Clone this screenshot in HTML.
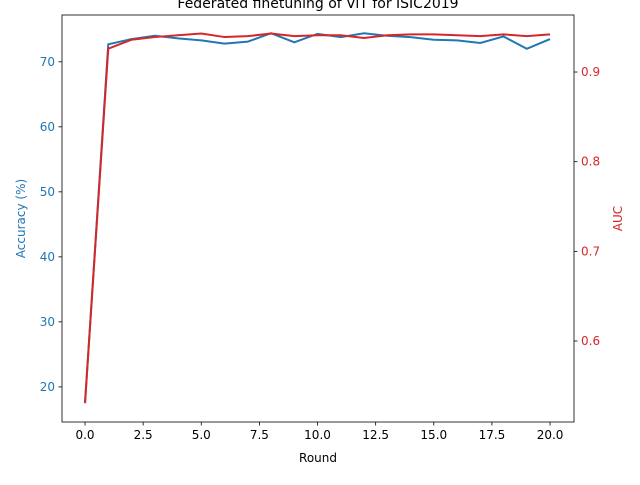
<!DOCTYPE html>
<html><head><meta charset="utf-8"><style>
body{margin:0;background:#fff;font-family:"Liberation Sans","DejaVu Sans",sans-serif}
</style></head><body>
<svg id="chart" width="640" height="480" font-family="DejaVu Sans, Liberation Sans, sans-serif" font-size="12"></svg>
<script>
const rounds=[0,1,2,3,4,5,6,7,8,9,10,11,12,13,14,15,16,17,18,19,20];
const accuracy=[17.5,72.7,73.5,74.0,73.6,73.3,72.8,73.1,74.4,73.0,74.3,73.8,74.4,74.0,73.8,73.4,73.3,72.9,73.9,72.0,73.5];
const auc=[0.531,0.926,0.936,0.939,0.941,0.943,0.939,0.940,0.943,0.940,0.941,0.941,0.938,0.941,0.942,0.942,0.941,0.940,0.942,0.940,0.942];
const xTicks=[0,2.5,5,7.5,10,12.5,15,17.5,20];
const xTickLabels=["0.0","2.5","5.0","7.5","10.0","12.5","15.0","17.5","20.0"];
const accTicks=[20,30,40,50,60,70];
const aucTicks=[0.6,0.7,0.8,0.9];
const L=62,R=574,T=15,B=422;
const xs=v=>L+(v+0.99)/(22.02)*(R-L);
const ya=v=>B-(v-14.6)/(77.2-14.6)*(B-T);
const yb=v=>B-(v-0.5097)/(0.9636-0.5097)*(B-T);
const svg=document.getElementById('chart');
const NS="http://www.w3.org/2000/svg";
function mk(t,a,txt){const e=document.createElementNS(NS,t);for(const k in a)e.setAttribute(k,a[k]);if(txt!==undefined)e.textContent=txt;svg.appendChild(e);return e;}
const frame=mk('rect',{x:L,y:T,width:R-L,height:B-T,fill:'none',stroke:'#000','stroke-width':0.8});


xTicks.forEach((v,i)=>{const x=xs(v);
 const t=mk('line',{x1:x,x2:x,y1:B,y2:B+3.5,stroke:'#000','stroke-width':0.8});
 
 
 const l=mk('text',{x:x,y:B+17,'text-anchor':'middle',fill:'#000'},xTickLabels[i]);
 
 });
accTicks.forEach(v=>{const y=ya(v);
 const t=mk('line',{x1:L-3.5,x2:L,y1:y,y2:y,stroke:'#000','stroke-width':0.8});
 
 
 const l=mk('text',{x:L-7,y:y+4,'text-anchor':'end',fill:'#1f77b4'},String(v));
 
 });
aucTicks.forEach(v=>{const y=yb(v);
 const t=mk('line',{x1:R,x2:R+3.5,y1:y,y2:y,stroke:'#000','stroke-width':0.8});
 
 
 const l=mk('text',{x:R+7,y:y+4,'text-anchor':'start',fill:'#d62728'},v.toFixed(1));
 
 });
const p1=mk('polyline',{points:rounds.map((r,i)=>xs(r)+','+ya(accuracy[i])).join(' '),fill:'none',stroke:'#1f77b4','stroke-width':2});


const p2=mk('polyline',{points:rounds.map((r,i)=>xs(r)+','+yb(auc[i])).join(' '),fill:'none',stroke:'#d62728','stroke-width':2});


const tt=mk('text',{x:(L+R)/2,y:8,'text-anchor':'middle','font-size':14,fill:'#000'},'Federated finetuning of ViT for ISIC2019');


const xl=mk('text',{x:(L+R)/2,y:462,'text-anchor':'middle',fill:'#000'},'Round');


const yl=mk('text',{x:0,y:0,'text-anchor':'middle',fill:'#1f77b4',transform:'translate(25,'+((T+B)/2)+') rotate(-90)'},'Accuracy (%)');


const yr=mk('text',{x:0,y:0,'text-anchor':'middle',fill:'#d62728',transform:'translate(622,'+((T+B)/2)+') rotate(-90)'},'AUC');


</script>
</body></html>
